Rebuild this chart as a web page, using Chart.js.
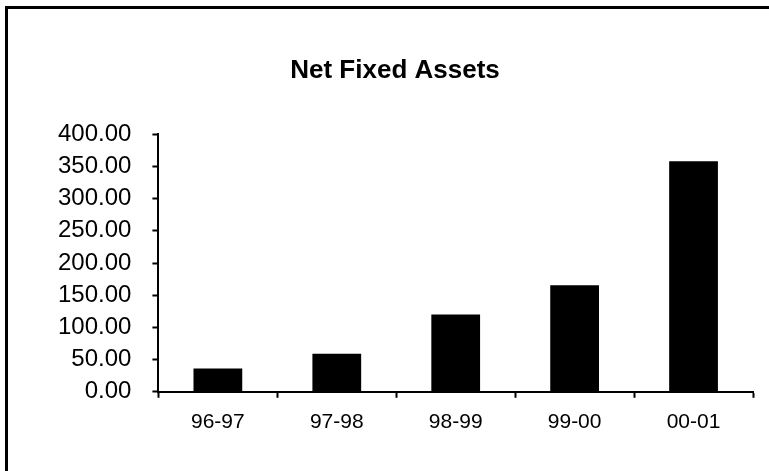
<!DOCTYPE html>
<html>
<head>
<meta charset="utf-8">
<script src="https://cdn.jsdelivr.net/npm/chart.js@4"></script>
<style>
  html, body { margin: 0; padding: 0; background: #fff; }
  #wrap { width: 769px; height: 471px; position: relative; }
</style>
</head>
<body>
<div id="wrap"><canvas id="myChart" width="769" height="471"></canvas></div>
<script>
const years = ['96-97', '97-98', '98-99', '99-00', '00-01'];
const netFixedAssets = [36, 59, 120, 165.5, 358];
const yTicks = [0, 50, 100, 150, 200, 250, 300, 350, 400];

// frame round the chart (left and top edges of the scanned box)
const framePlugin = {
  id: 'frame',
  afterDraw(chart) {
    const c = chart.ctx;
    c.save();
    c.strokeStyle = '#000';
    c.lineWidth = 3;
    c.beginPath();
    c.moveTo(6.5, 471);
    c.lineTo(6.5, 7.5);
    c.lineTo(769, 7.5);
    c.stroke();
    c.restore();
  }
};

const ctx = document.getElementById('myChart');

const myChart = new Chart(ctx, {
  type: 'bar',
  data: {
    labels: years,
    datasets: [{
      label: 'Net Fixed Assets',
      data: netFixedAssets,
      backgroundColor: '#000',
      borderWidth: 0,
      categoryPercentage: 1,
      barPercentage: 0.41
    }]
  },
  plugins: [framePlugin],
  options: {
    responsive: false,
    animation: false,
    layout: {
      padding: { left: 37, right: 16, top: 0, bottom: 24 }
    },
    plugins: {
      legend: { display: false },
      tooltip: { enabled: false },
      title: {
        display: true,
        text: 'Net Fixed Assets',
        color: '#000',
        font: { family: 'Liberation Sans', size: 26, weight: 'bold' },
        padding: { top: 55, bottom: 48 }
      }
    },
    scales: {
      x: {
        grid: {
          offset: true,
          drawOnChartArea: false,
          color: '#000',
          tickLength: 6,
          tickWidth: 2
        },
        border: { color: '#000', width: 2 },
        ticks: {
          color: '#000',
          padding: 12,
          font: { family: 'Liberation Sans', size: 21 }
        }
      },
      y: {
        min: 0,
        max: 400,
        afterBuildTicks(axis) {
          axis.ticks = yTicks.map(v => ({ value: v }));
        },
        grid: {
          drawOnChartArea: false,
          color: '#000',
          tickLength: 6,
          tickWidth: 2
        },
        border: { color: '#000', width: 2 },
        ticks: {
          color: '#000',
          padding: 21,
          autoSkip: false,
          font: { family: 'Liberation Sans', size: 24 },
          callback: v => Number(v).toFixed(2)
        }
      }
    }
  }
});
</script>
</body>
</html>
